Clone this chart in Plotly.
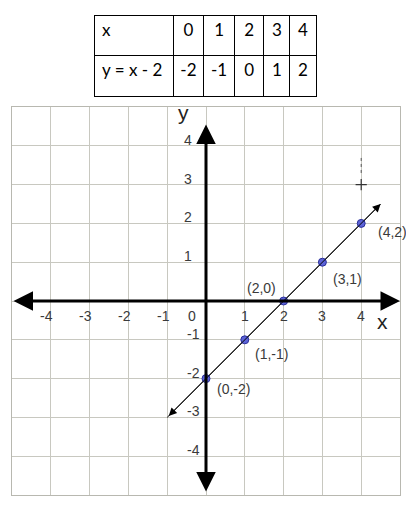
import plotly.graph_objects as go

# ---- data ----
table_x = ["0", "1", "2", "3", "4"]
table_y = ["-2", "-1", "0", "1", "2"]
table_row_labels = ["x", "y\u00a0=\u00a0x\u00a0-\u00a02"]
point_x = [0, 1, 2, 3, 4]
point_y = [-2, -1, 0, 1, 2]
point_labels = ["(0,-2)", "(1,-1)", "(2,0)", "(3,1)", "(4,2)"]
line_ends_x = [-1, 4.5]
line_ends_y = [-3, 2.5]
x_ticks = [-4, -3, -2, -1, 0, 1, 2, 3, 4]
y_ticks = [4, 3, 2, 1, -1, -2, -3, -4]
stray_x = [4]
stray_y = [3]

# ---- styles ----
OFF = 8                  # page body margin
W, H = 414 - OFF, 508 - OFF
px0, px1 = 12 - OFF, 400 - OFF      # plot area pixel x
py0, py1 = 107 - OFF, 495 - OFF     # plot area pixel y (top, bottom)
tx0, tx1 = 94 - OFF, 316 - OFF      # table pixel x
ty0, ty1 = 15 - OFF, 101 - OFF      # table pixel y
grid_col = "#c8c8c0"
tick_col = "#3a3a3a"
font_fam = "Liberation Sans, Arial, sans-serif"
table_font = dict(size=17, color="black", family="Lato, sans-serif")
label_offsets = [(27, -10), (27, -14), (-22, 13), (25, -17), (31, -9)]

fig = go.Figure()

# table
fig.add_trace(go.Table(
    domain=dict(x=[tx0 / W, tx1 / W], y=[1 - ty1 / H, 1 - ty0 / H]),
    columnwidth=[79, 30, 31, 29, 26, 26],
    header=dict(values=[table_row_labels[0]] + table_x, height=40,
                align=["left"] + ["center"] * 5,
                line=dict(color="black", width=1),
                fill_color="white", font=table_font),
    cells=dict(values=[[table_row_labels[1]]] + [[v] for v in table_y], height=41,
               align=["left"] + ["center"] * 5,
               line=dict(color="black", width=1),
               fill_color="white", font=table_font),
))

# graphed line
fig.add_trace(go.Scatter(x=line_ends_x, y=line_ends_y, mode="lines",
                         line=dict(color="black", width=1), hoverinfo="skip",
                         showlegend=False))
# points
fig.add_trace(go.Scatter(x=point_x, y=point_y, mode="markers",
                         marker=dict(size=8, color="#5c63d8",
                                     line=dict(color="#2b2f9a", width=1)),
                         showlegend=False))
# stray mark
fig.add_trace(go.Scatter(x=stray_x, y=stray_y, mode="markers",
                         marker=dict(symbol="cross-thin", size=8,
                                     line=dict(color="#333", width=1.2)),
                         showlegend=False))

ann = []
# x axis arrow (both ends)
ann.append(dict(x=5, y=0, ax=-5, ay=0, xref="x", yref="y", axref="x", ayref="y",
                text="", showarrow=True, arrowhead=2, arrowsize=1.3, arrowwidth=3,
                arrowside="end+start", arrowcolor="black"))
# y axis arrow
ann.append(dict(x=0, y=4.55, ax=0, ay=-4.95, xref="x", yref="y", axref="x", ayref="y",
                text="", showarrow=True, arrowhead=2, arrowsize=1.3, arrowwidth=3,
                arrowside="end+start", arrowcolor="black"))
# line arrows
ann.append(dict(x=line_ends_x[1], y=line_ends_y[1], ax=line_ends_x[0], ay=line_ends_y[0],
                xref="x", yref="y", axref="x", ayref="y",
                text="", showarrow=True, arrowhead=2, arrowsize=1.6, arrowwidth=1,
                arrowside="end+start", arrowcolor="black"))

# tick labels
for v in x_ticks:
    xs = -14 if v == 0 else (-4 if v < 0 else 0)
    ann.append(dict(x=v, y=0, xref="x", yref="y", text=str(v), showarrow=False,
                    xshift=xs, yshift=-15, font=dict(size=14, color=tick_col, family=font_fam)))
for v in y_ticks:
    xs = -12 if v > 0 else -4
    ann.append(dict(x=0, y=v, xref="x", yref="y", text=str(v), showarrow=False,
                    xanchor="right", xshift=xs, yshift=6,
                    font=dict(size=14, color=tick_col, family=font_fam)))
# axis letters
ann.append(dict(x=-0.59, y=4.85, xref="x", yref="y", text="y", showarrow=False,
                font=dict(size=21, color="#222", family=font_fam)))
ann.append(dict(x=4.54, y=-0.54, xref="x", yref="y", text="x", showarrow=False,
                font=dict(size=21, color="#222", family=font_fam)))
# point labels
for px, py, t, (dx, dy) in zip(point_x, point_y, point_labels, label_offsets):
    ann.append(dict(x=px, y=py, xref="x", yref="y", text=t, showarrow=False,
                    xshift=dx, yshift=dy,
                    font=dict(size=14, color=tick_col, family=font_fam)))

# little dashed mark above the stray cross
fig.add_shape(type="line", x0=stray_x[0], x1=stray_x[0], y0=stray_y[0] + 0.3,
              y1=stray_y[0] + 0.7, xref="x", yref="y",
              line=dict(color="#555", width=1, dash="dot"))

axis_common = dict(range=[-5, 5], dtick=1, tick0=0, showgrid=True, gridcolor=grid_col,
                   gridwidth=1.2, zeroline=False, showticklabels=False, ticks="",
                   showline=True, mirror=True, linecolor="#b8b8b0", linewidth=1.2,
                   fixedrange=True)
fig.update_layout(
    width=W, height=H, autosize=False,
    margin=dict(l=0, r=0, t=0, b=0),
    paper_bgcolor="white", plot_bgcolor="white",
    xaxis=dict(domain=[px0 / W, px1 / W], **axis_common),
    yaxis=dict(domain=[1 - py1 / H, 1 - py0 / H], **axis_common),
    annotations=ann,
    showlegend=False,
)

fig.write_html("out.html")
